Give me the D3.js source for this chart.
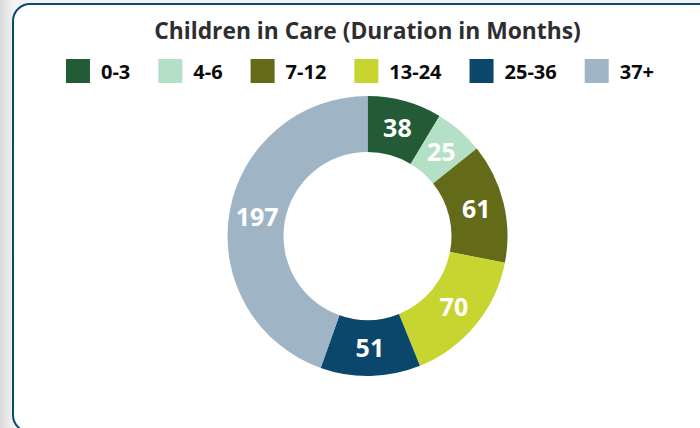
<!DOCTYPE html>
<html>
<head>
<meta charset="utf-8">
<script src="https://cdn.jsdelivr.net/npm/d3@7"></script>
<style>
  html, body { margin: 0; padding: 0; background: #fff; }
  svg { display: block; font-family: "Open Sans", "Noto Sans", sans-serif; }
</style>
</head>
<body>
<svg id="chart" width="700" height="428"></svg>
<script>
// chart data
var categories = ["0-3", "4-6", "7-12", "13-24", "25-36", "37+"];
var values = [38, 25, 61, 70, 51, 197];
var colors = ["#245b37", "#b4e0c6", "#636a18", "#c8d530", "#0b466b", "#9fb5c6"];
var title = "Children in Care (Duration in Months)";

var svg = d3.select("#chart"),
    width = +svg.attr("width"),
    height = +svg.attr("height");

// page background + card
var defs = svg.append("defs");
var grad = defs.append("linearGradient").attr("id", "side")
    .attr("x1", "0").attr("x2", "1").attr("y1", "0").attr("y2", "0");
grad.append("stop").attr("offset", "0%").attr("stop-color", "#d9d9d9");
grad.append("stop").attr("offset", "100%").attr("stop-color", "#f4f4f4");

svg.append("rect").attr("width", width).attr("height", height).attr("fill", "#f3f3f3");
svg.append("rect").attr("width", 14).attr("height", height).attr("fill", "url(#side)");

svg.append("rect")
    .attr("x", 13).attr("y", 4)
    .attr("width", 730).attr("height", 428)
    .attr("rx", 17)
    .attr("fill", "#fff")
    .attr("stroke", "#0b4a6f")
    .attr("stroke-width", 2);

var cx = 367.5, cy = 236;

svg.append("text")
    .attr("x", cx).attr("y", 39)
    .attr("text-anchor", "middle")
    .attr("font-size", "22.8px")
    .attr("font-weight", "bold")
    .attr("fill", "#2e2e2e")
    .text(title);

// legend, laid out by measured text widths
var legend = svg.append("g");
var xPos = 0;
categories.forEach(function(c, i) {
    var item = legend.append("g").attr("transform", "translate(" + xPos + ",0)");
    item.append("rect")
        .attr("x", 0).attr("y", 59)
        .attr("width", 24).attr("height", 24)
        .attr("fill", colors[i]);
    var t = item.append("text")
        .attr("x", 35).attr("y", 79)
        .attr("font-size", "20px")
        .attr("font-weight", "bold")
        .attr("fill", "#0a0a0a")
        .text(c);
    xPos += 35 + t.node().getComputedTextLength() + 28;
});
var legendW = xPos - 28;
legend.attr("transform", "translate(" + (360 - legendW / 2) + ",0)");

// donut
var outer = 140, inner = 84;
var pie = d3.pie().sort(null).value(function(d) { return d; });
var arc = d3.arc().innerRadius(inner).outerRadius(outer);
var arcs = pie(values);

var g = svg.append("g").attr("transform", "translate(" + cx + "," + cy + ")");

g.selectAll("path")
    .data(arcs)
    .enter().append("path")
    .attr("d", arc)
    .attr("fill", function(d, i) { return colors[i]; });

g.selectAll(".lbl")
    .data(arcs)
    .enter().append("text")
    .attr("class", "lbl")
    .attr("transform", function(d) { return "translate(" + arc.centroid(d) + ")"; })
    .attr("dy", "0.36em")
    .attr("text-anchor", "middle")
    .attr("font-size", "25px")
    .attr("font-weight", "bold")
    .attr("fill", "#fff")
    .text(function(d) { return d.data; });
</script>
</body>
</html>
